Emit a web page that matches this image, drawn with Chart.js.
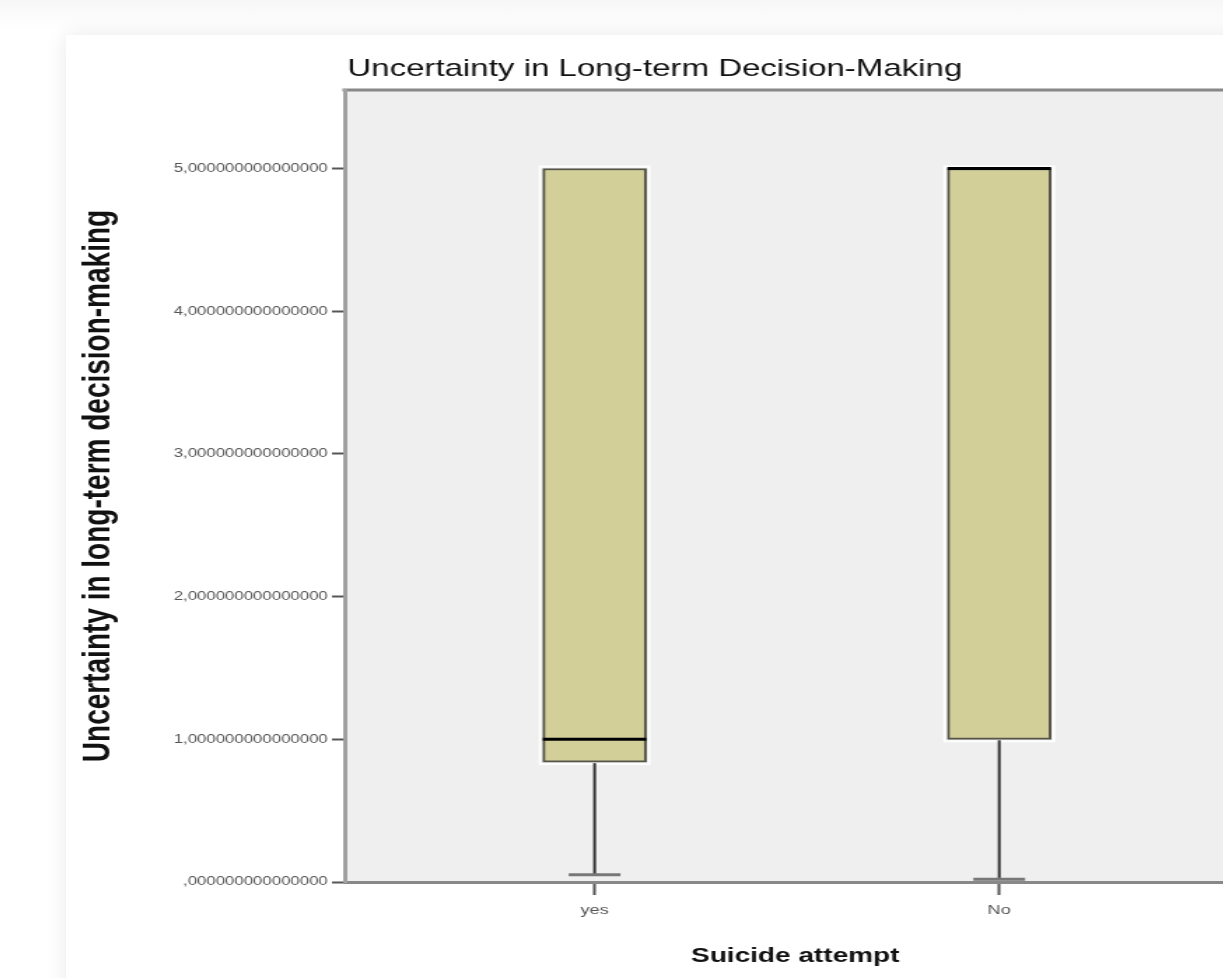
<!DOCTYPE html>
<html>
<head>
<meta charset="utf-8">
<title>Uncertainty in Long-term Decision-Making</title>
<script src="https://cdn.jsdelivr.net/npm/chart.js@4.4.1/dist/chart.umd.min.js"></script>
<style>
  html, body { margin: 0; padding: 0; background: #ffffff; overflow: hidden; }
  body { width: 1223px; height: 978px; position: relative;
         background: linear-gradient(180deg, #f7f7f7 0px, #ffffff 30px); }
  #card { position: absolute; left: 66px; top: 35px; width: 1200px; height: 960px;
          background: #ffffff; box-shadow: 0 0 22px rgba(0,0,0,0.09); }
  #chart { position: absolute; left: 66px; top: 35px; }
</style>
</head>
<body>
<div id="card"></div>
<!-- drawn at a narrower size and widened by CSS, like the exported SPSS graphic -->
<canvas id="chart" width="843" height="943" style="width:1180px;height:943px"></canvas>
<script>
// Groups on the x axis
const categories = ['yes', 'No'];
// Box-plot statistics per group
const q1Values = [0.84, 1];
const medianValues = [1, 5];
const q3Values = [5, 5];
const whiskerLow = [0.05, 0.02];
const whiskerHigh = [5, 5];
// Y axis ticks and their labels
const yTickValues = [0, 1, 2, 3, 4, 5];
const yTickLabels = [
  ',000000000000000', '1,000000000000000', '2,000000000000000',
  '3,000000000000000', '4,000000000000000', '5,000000000000000'
];

const BOX_WIDTH = 74;      // px, in canvas units
const FONT = '"Liberation Sans", Arial, sans-serif';

const boxData = categories.map((c, i) => ({ x: i + 1, y: [q1Values[i], q3Values[i]] }));

// Plot background, the frame line on top of the plot area, and the chart title
const plotFrame = {
  id: 'plotFrame',
  beforeDraw(chart) {
    const { ctx, chartArea: a } = chart;
    ctx.save();
    ctx.fillStyle = '#efefef';
    ctx.fillRect(a.left, a.top, a.right - a.left + 10, a.bottom - a.top);
    ctx.strokeStyle = '#888888';
    ctx.lineWidth = 3;
    ctx.beginPath();
    ctx.moveTo(a.left - 1.5, a.top);
    ctx.lineTo(a.right + 10, a.top);
    ctx.stroke();
    ctx.restore();
  },
  afterDraw(chart) {
    const { ctx, chartArea: a } = chart;
    ctx.save();
    ctx.fillStyle = '#111111';
    ctx.font = '23.6px ' + FONT;
    ctx.textAlign = 'left';
    ctx.textBaseline = 'middle';
    ctx.fillText('Uncertainty in Long-term Decision-Making', a.left + 2, 34);
    ctx.restore();
  }
};

// Whiskers, caps, medians and a light halo around each box
const boxPlotParts = {
  id: 'boxPlotParts',
  beforeDatasetsDraw(chart) {
    const { ctx } = chart;
    const xs = chart.scales.x, ys = chart.scales.y;
    ctx.save();
    ctx.strokeStyle = 'rgba(255,255,255,0.9)';
    ctx.lineWidth = 2;
    categories.forEach((c, i) => {
      const cx = xs.getPixelForValue(i + 1);
      const top = ys.getPixelForValue(q3Values[i]);
      const bot = ys.getPixelForValue(q1Values[i]);
      ctx.strokeRect(cx - BOX_WIDTH / 2 - 2, top - 2, BOX_WIDTH + 4, bot - top + 4);
    });
    ctx.restore();
  },
  afterDatasetsDraw(chart) {
    const { ctx } = chart;
    const xs = chart.scales.x, ys = chart.scales.y;
    ctx.save();
    categories.forEach((c, i) => {
      const cx = xs.getPixelForValue(i + 1);
      const yLow = ys.getPixelForValue(whiskerLow[i]);
      const yQ1 = ys.getPixelForValue(q1Values[i]);
      const yQ3 = ys.getPixelForValue(q3Values[i]);
      const yHigh = ys.getPixelForValue(whiskerHigh[i]);
      const capHalf = BOX_WIDTH / 4;
      // lower whisker
      ctx.strokeStyle = '#333333';
      ctx.lineWidth = 2;
      ctx.beginPath();
      ctx.moveTo(cx, yQ1 + 1);
      ctx.lineTo(cx, yLow);
      ctx.stroke();
      ctx.strokeStyle = '#777777';
      ctx.lineWidth = 3;
      ctx.beginPath();
      ctx.moveTo(cx - capHalf, yLow);
      ctx.lineTo(cx + capHalf, yLow);
      ctx.stroke();
      // upper whisker (only when it reaches past the box)
      if (yHigh < yQ3 - 1) {
        ctx.strokeStyle = '#333333';
        ctx.lineWidth = 2;
        ctx.beginPath();
        ctx.moveTo(cx, yQ3 - 1);
        ctx.lineTo(cx, yHigh);
        ctx.stroke();
        ctx.strokeStyle = '#777777';
        ctx.lineWidth = 3;
        ctx.beginPath();
        ctx.moveTo(cx - capHalf, yHigh);
        ctx.lineTo(cx + capHalf, yHigh);
        ctx.stroke();
      }
      // median
      const yMed = ys.getPixelForValue(medianValues[i]);
      ctx.strokeStyle = '#000000';
      ctx.lineWidth = 3;
      ctx.beginPath();
      ctx.moveTo(cx - BOX_WIDTH / 2, yMed);
      ctx.lineTo(cx + BOX_WIDTH / 2, yMed);
      ctx.stroke();
    });
    ctx.restore();
  }
};

new Chart(document.getElementById('chart'), {
  type: 'bar',
  data: {
    datasets: [{
      label: 'Uncertainty in long-term decision-making',
      data: boxData,
      backgroundColor: '#d3cf98',
      borderColor: '#55554a',
      borderWidth: 2,
      borderSkipped: false,
      barThickness: BOX_WIDTH
    }]
  },
  options: {
    responsive: false,
    animation: false,
    devicePixelRatio: 1,
    layout: { padding: { top: 55, right: 0, left: 0, bottom: 0 } },
    plugins: {
      legend: { display: false },
      tooltip: { enabled: false },
      title: { display: false }
    },
    scales: {
      x: {
        type: 'linear',
        offset: false,
        min: 0.382,
        max: 2.61,
        afterBuildTicks(scale) {
          scale.ticks = categories.map((c, i) => ({ value: i + 1 }));
        },
        afterFit(scale) { scale.height = 96; },
        grid: {
          offset: false,
          drawOnChartArea: false,
          drawTicks: true,
          tickLength: 13,
          tickWidth: 2,
          tickColor: '#555555'
        },
        border: { display: true, color: '#888888', width: 3 },
        ticks: {
          autoSkip: false,
          maxRotation: 0,
          padding: 8,
          color: '#555555',
          font: { family: FONT, size: 13 },
          callback(value) { return categories[Math.round(value) - 1] ?? ''; }
        },
        title: {
          display: true,
          text: 'Suicide attempt',
          color: '#111111',
          font: { family: FONT, size: 20, weight: 'bold' },
          padding: { top: 0, bottom: 10 }
        }
      },
      y: {
        type: 'linear',
        min: 0,
        max: 5.55,
        afterBuildTicks(scale) {
          scale.ticks = yTickValues.map(v => ({ value: v }));
        },
        afterFit(scale) { scale.width = 199; },
        grid: {
          drawOnChartArea: false,
          drawTicks: true,
          tickLength: 9,
          tickWidth: 2,
          tickColor: '#555555'
        },
        border: { display: true, color: '#a0a0a0', width: 3 },
        ticks: {
          autoSkip: false,
          padding: 3,
          color: '#555555',
          font: { family: FONT, size: 12 },
          callback(value, index) { return yTickLabels[index]; }
        },
        title: {
          display: true,
          text: 'Uncertainty in long-term decision-making',
          color: '#111111',
          font: { family: FONT, size: 28, weight: 'bold' },
          padding: { top: 6, bottom: 0 }
        }
      }
    }
  },
  plugins: [plotFrame, boxPlotParts]
});
</script>
</body>
</html>
